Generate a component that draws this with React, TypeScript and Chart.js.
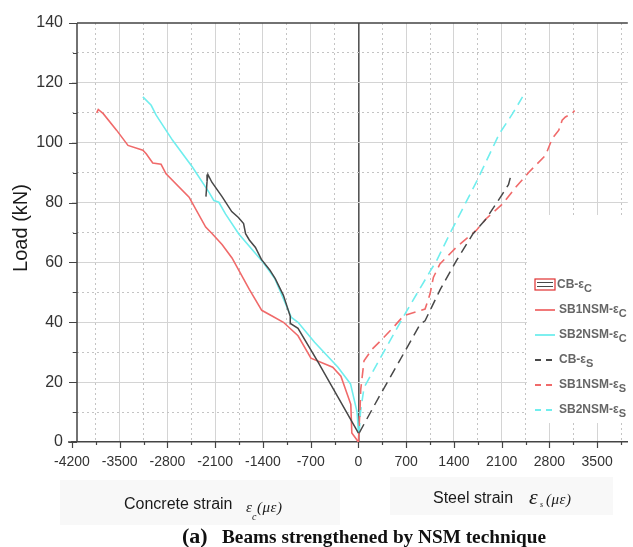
import React, { useEffect, useRef } from "react";
import { Chart, registerables } from "chart.js";

Chart.register(...registerables);

// ---- data (strain in micro-strain, load in kN) ----
const cbConcreteStrain = [0, -300, -600, -886, -990, -1000, -1100, -1220, -1300, -1423, -1510, -1600, -1655, -1684, -1760, -1858, -2000, -2149, -2207, -2220, -2236];
const cbConcreteLoad = [3, 15, 27, 38, 39.5, 42, 49, 54.6, 57.5, 61, 65, 67.5, 69.6, 73, 75, 77, 82, 86.8, 89.4, 87, 82];

const sb1ConcreteStrain = [0, -97, -112, -257, -377, -697, -886, -1100, -1273, -1418, -1600, -1854, -2000, -2144, -2240, -2483, -2821, -2894, -3016, -3112, -3161, -3379, -3547, -3742, -3815, -3838];
const sb1ConcreteLoad = [0, 3, 12.6, 22, 25, 28, 35.5, 40, 42.2, 44, 51, 61.5, 66, 69.6, 71.8, 81.8, 89.6, 92.8, 93.2, 96.3, 97.5, 99.1, 104.2, 109.7, 111.1, 110];

const sb2ConcreteStrain = [0, -20, -116, -300, -643, -886, -983, -1224, -1418, -1757, -1950, -2047, -2120, -2193, -2435, -2725, -2966, -3039, -3161];
const sb2ConcreteLoad = [3, 10, 19.4, 25, 33.3, 40, 41.6, 54.5, 60.6, 69.6, 76.2, 80.1, 80.7, 83.5, 91.9, 100.8, 109.2, 112.5, 115.3];

const cbSteelStrain = [10, 300, 600, 905, 977, 1200, 1437, 1680, 1873, 2000, 2116, 2200, 2236];
const cbSteelLoad = [3, 15, 27, 39.4, 40.5, 51, 60.6, 69.6, 74.6, 79, 83, 86, 89.1];

const sb1SteelStrain = [0, 10, 25, 34, 82, 200, 324, 500, 663, 977, 1050, 1099, 1195, 1437, 1728, 1873, 2116, 2309, 2502, 2744, 2842, 2938, 2987, 3035, 3132, 3170];
const sb1SteelLoad = [0, 5, 12, 17.6, 27.1, 31, 33.8, 38, 42.2, 44.4, 49.5, 55, 59.5, 65.1, 70.7, 74.6, 79.6, 85.2, 90.2, 95.8, 101.4, 104.2, 107.5, 108.6, 109.7, 110.8];

const sb2SteelStrain = [10, 30, 82, 324, 711, 1050, 1147, 1340, 1728, 2066, 2260, 2406];
const sb2SteelLoad = [3, 10, 18.2, 28.2, 43.9, 57, 60.6, 69.6, 86.8, 103, 109.7, 115.3];

const seriesNames = ["CB-ε", "SB1NSM-ε", "SB2NSM-ε", "CB-ε", "SB1NSM-ε", "SB2NSM-ε"];
const seriesSubs = ["C", "C", "C", "S", "S", "S"];

const xTicks = [-4200, -3850, -3500, -3150, -2800, -2450, -2100, -1750, -1400, -1050, -700, -350, 0, 350, 700, 1050, 1400, 1750, 2100, 2450, 2800, 3150, 3500, 3850];
const yTicks = [0, 10, 20, 30, 40, 50, 60, 70, 80, 90, 100, 110, 120, 130, 140];

const RED = "#f06a6a";
const CYAN = "#70eeee";
const DARK = "#484848";
const SANS = "'Liberation Sans', Arial, sans-serif";
const SERIF = "'Liberation Serif', 'Times New Roman', serif";

const pts = (xs: number[], ys: number[]) => xs.map((x, i) => ({ x, y: ys[i] }));

const Y_AXIS_X = 77;

const decoPlugin = {
  id: "deco",
  beforeDraw(chart: any) {
    const ctx = chart.ctx;
    ctx.save();
    ctx.fillStyle = "#ffffff";
    ctx.fillRect(0, 0, chart.width, chart.height);
    ctx.fillStyle = "#f8f8f8";
    ctx.fillRect(60, 480, 280, 45);
    ctx.fillRect(390, 477, 223, 38);
    ctx.restore();
  },
  afterDatasetsDraw(chart: any) {
    const ctx = chart.ctx;
    const area = chart.chartArea;
    const xs = chart.scales.x;
    const ys = chart.scales.y;
    ctx.save();
    // legend box
    ctx.fillStyle = "#ffffff";
    ctx.fillRect(527, 215, 106, 208);
    // axis lines
    ctx.strokeStyle = "#444";
    ctx.lineWidth = 1.5;
    ctx.beginPath();
    ctx.moveTo(Y_AXIS_X, area.top);
    ctx.lineTo(Y_AXIS_X, area.bottom);
    ctx.moveTo(Y_AXIS_X, area.top);
    ctx.lineTo(area.right, area.top);
    ctx.moveTo(68, area.bottom);
    ctx.lineTo(area.left, area.bottom);
    ctx.stroke();
    // tick marks
    ctx.lineWidth = 1.2;
    ctx.beginPath();
    xTicks.forEach((v) => {
      const px = Math.round(xs.getPixelForValue(v)) + 0.5;
      const len = v % 700 === 0 ? 6 : 3;
      ctx.moveTo(px, area.bottom);
      ctx.lineTo(px, area.bottom + len);
    });
    yTicks.forEach((v) => {
      const py = Math.round(ys.getPixelForValue(v)) + 0.5;
      const len = v % 20 === 0 ? 8 : 4;
      ctx.moveTo(Y_AXIS_X - len, py);
      ctx.lineTo(Y_AXIS_X, py);
    });
    ctx.stroke();

    // legend entries
    const ds = chart.data.datasets;
    ds.forEach((d: any, i: number) => {
      const y = 285 + i * 25;
      ctx.save();
      ctx.strokeStyle = d.borderColor;
      ctx.lineWidth = 1.8;
      ctx.setLineDash(d.borderDash && d.borderDash.length ? [6, 5] : []);
      ctx.beginPath();
      if (i === 0) {
        ctx.lineWidth = 1.2;
        ctx.moveTo(537, y - 2.5);
        ctx.lineTo(553, y - 2.5);
        ctx.moveTo(537, y + 1.5);
        ctx.lineTo(553, y + 1.5);
      } else {
        ctx.moveTo(535, y);
        ctx.lineTo(555, y);
      }
      ctx.stroke();
      if (i === 0) {
        ctx.strokeStyle = "#e03030";
        ctx.lineWidth = 1.2;
        ctx.setLineDash([]);
        ctx.strokeRect(535, y - 6, 20, 11);
      }
      ctx.restore();
      ctx.fillStyle = "#666666";
      ctx.font = `bold 12px ${SANS}`;
      ctx.textBaseline = "middle";
      ctx.textAlign = "left";
      const tx = i === 0 ? 557 : 559;
      ctx.fillText(seriesNames[i], tx, y);
      const w = ctx.measureText(seriesNames[i]).width;
      ctx.font = `bold 11px ${SANS}`;
      ctx.fillText(seriesSubs[i], tx + w, y + 4);
    });
    ctx.restore();
  },
  afterDraw(chart: any) {
    const ctx = chart.ctx;
    ctx.save();
    ctx.fillStyle = "#1a1a1a";
    ctx.textBaseline = "alphabetic";
    ctx.textAlign = "left";
    // y axis title
    ctx.save();
    ctx.translate(21, 228);
    ctx.rotate(-Math.PI / 2);
    ctx.textAlign = "center";
    ctx.textBaseline = "middle";
    ctx.font = `20px ${SANS}`;
    ctx.fillText("Load (kN)", 0, 0);
    ctx.restore();

    // concrete strain title
    ctx.font = `16px ${SANS}`;
    ctx.fillText("Concrete strain", 124, 509);
    ctx.font = `italic 15px ${SERIF}`;
    ctx.fillText("ε", 246, 512);
    ctx.font = `italic 10px ${SERIF}`;
    ctx.fillText("c", 252, 520);
    ctx.font = `italic 15px ${SERIF}`;
    (ctx as any).letterSpacing = "0.5px";
    ctx.fillText("(με)", 257, 512);
    (ctx as any).letterSpacing = "0px";

    // steel strain title
    ctx.font = `16px ${SANS}`;
    ctx.fillText("Steel strain", 433, 503);
    ctx.font = `italic 22px ${SERIF}`;
    ctx.fillText("ε", 529, 504);
    ctx.font = `italic 8px ${SERIF}`;
    ctx.fillText("s", 540, 507);
    ctx.font = `italic 15px ${SERIF}`;
    (ctx as any).letterSpacing = "0.5px";
    ctx.fillText("(με)", 546, 504);
    (ctx as any).letterSpacing = "0px";

    // caption
    ctx.fillStyle = "#111";
    ctx.font = `bold 22px ${SERIF}`;
    ctx.fillText("(a)", 182, 543);
    const cap = "Beams strengthened by NSM technique";
    ctx.font = `bold 17px ${SERIF}`;
    const cw = ctx.measureText(cap).width;
    const target = 324;
    const fs = 17 * target / cw;
    ctx.font = `bold ${fs.toFixed(2)}px ${SERIF}`;
    ctx.fillText(cap, 222, 543);
    ctx.restore();
  },
};

export default function App() {
  const ref = useRef<HTMLCanvasElement | null>(null);
  useEffect(() => {
    if (!ref.current) return;
    const dashed = [10, 6];
    const chart = new Chart(ref.current, {
      type: "scatter",
      data: {
        datasets: [
          { label: "CB-εC", data: pts(cbConcreteStrain, cbConcreteLoad), borderColor: DARK, borderWidth: 1.5, showLine: true, pointRadius: 0, borderDash: [] },
          { label: "SB1NSM-εC", data: pts(sb1ConcreteStrain, sb1ConcreteLoad), borderColor: RED, borderWidth: 1.6, showLine: true, pointRadius: 0, borderDash: [] },
          { label: "SB2NSM-εC", data: pts(sb2ConcreteStrain, sb2ConcreteLoad), borderColor: CYAN, borderWidth: 1.6, showLine: true, pointRadius: 0, borderDash: [] },
          { label: "CB-εS", data: pts(cbSteelStrain, cbSteelLoad), borderColor: DARK, borderWidth: 1.5, showLine: true, pointRadius: 0, borderDash: dashed },
          { label: "SB1NSM-εS", data: pts(sb1SteelStrain, sb1SteelLoad), borderColor: RED, borderWidth: 1.6, showLine: true, pointRadius: 0, borderDash: dashed },
          { label: "SB2NSM-εS", data: pts(sb2SteelStrain, sb2SteelLoad), borderColor: CYAN, borderWidth: 1.6, showLine: true, pointRadius: 0, borderDash: dashed },
        ],
      },
      options: {
        animation: false,
        responsive: false,
        events: [],
        layout: { padding: { top: 23, left: 0, right: 0, bottom: 0 } },
        plugins: { legend: { display: false }, tooltip: { enabled: false }, title: { display: false } },
        scales: {
          x: {
            type: "linear",
            min: -4200,
            max: 3950,
            afterBuildTicks: (s: any) => { s.ticks = xTicks.map((v) => ({ value: v })); },
            afterFit: (s: any) => { s.height = 547 - 442; },
            grid: {
              drawTicks: false,
              color: (c: any) => {
                const v = c.tick ? c.tick.value : 1;
                if (v === -4200) return "rgba(0,0,0,0)";
                if (v === 0) return "#555";
                return v % 700 === 0 ? "#d4d4d4" : "#c4c4c4";
              },
              lineWidth: (c: any) => (c.tick && c.tick.value === 0 ? 1.6 : 1),
            },
            border: {
              display: true,
              color: "#444",
              width: 1.5,
              dash: (c: any) => (c.tick && c.tick.value % 700 !== 0 ? [2, 3] : []),
            },
            ticks: {
              autoSkip: false,
              maxRotation: 0,
              minRotation: 0,
              padding: 12,
              color: "#333",
              font: { family: SANS, size: 14 },
              callback: (v: any) => (Number(v) % 700 === 0 ? String(v) : ""),
            },
          },
          y: {
            type: "linear",
            min: 0,
            max: 140,
            afterBuildTicks: (s: any) => { s.ticks = yTicks.map((v) => ({ value: v })); },
            afterFit: (s: any) => { s.width = 72; },
            grid: {
              drawTicks: false,
              color: (c: any) => {
                const v = c.tick ? c.tick.value : 1;
                if (v === 0 || v === 140) return "rgba(0,0,0,0)";
                return v % 20 === 0 ? "#d4d4d4" : "#c4c4c4";
              },
              lineWidth: 1,
            },
            border: {
              display: false,
              dash: (c: any) => (c.tick && c.tick.value % 20 !== 0 ? [2, 3] : []),
            },
            ticks: {
              padding: 9,
              color: "#333",
              font: { family: SANS, size: 16 },
              callback: (v: any) => (Number(v) % 20 === 0 ? String(v) : ""),
            },
          },
        },
      },
      plugins: [decoPlugin],
    } as any);
    return () => chart.destroy();
  }, []);
  return (
    <div style={{ position: "fixed", left: 0, top: 0, width: 633, height: 547, background: "#fff" }}>
      <canvas ref={ref} width={633} height={547} style={{ width: 633, height: 547, display: "block" }} />
    </div>
  );
}
